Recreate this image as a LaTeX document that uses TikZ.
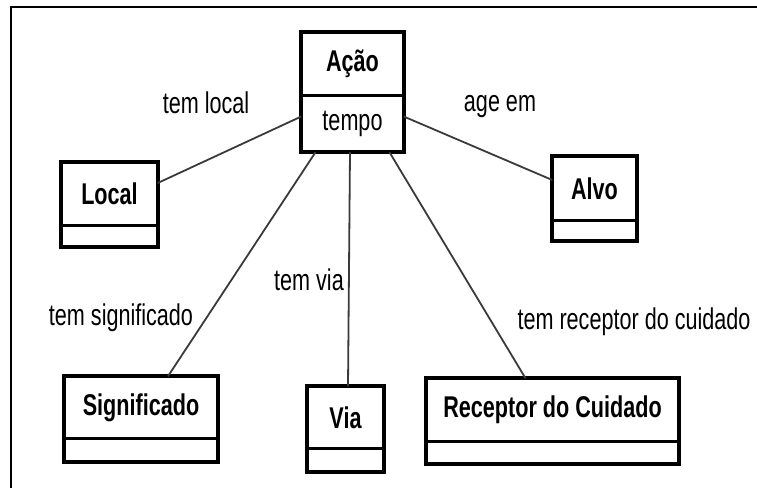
\documentclass[tikz,border=0pt]{standalone}
\usepackage{fontspec}
\setmainfont[FakeStretch=0.72]{Liberation Sans}
\usepackage{tikz}
\usepackage{xcolor}
\definecolor{linkgray}{HTML}{3A3A3A}

\tikzset{
 classname/.style={draw=black, line width=1.5pt, inner sep=0pt, font=\bfseries\fontsize{30}{32}\selectfont},
 classpart/.style={draw=black, line width=1.5pt, inner sep=0pt, font=\fontsize{30}{32}\selectfont},
 classborder/.style={draw=black, line width=4pt},
 assoc/.style={draw=linkgray, line width=1.8pt},
 assoclabel/.style={inner sep=0pt, font=\fontsize{30}{32}\selectfont},
 pageframe/.style={draw=black, line width=2.5pt}
}

\begin{document}
\begin{tikzpicture}[x=1pt,y=-1pt]
 \useasboundingbox (0,0) rectangle (757,488);
 \draw[pageframe] (757,7) -- (11,7) -- (11,488);

 \node[classname, minimum width=101pt, minimum height=62pt] (acao) at (352.5,64) {Ação};
 \node[classpart, minimum width=101pt, minimum height=55pt, anchor=north] (acaotempo) at (acao.south) {tempo};
 \draw[classborder] (acao.north west) rectangle (acaotempo.south east);

 \node[classname, minimum width=95pt, minimum height=62pt] (local) at (109.5,194) {Local};
 \node[classpart, minimum width=95pt, minimum height=20pt, anchor=north] (localpart) at (local.south) {};
 \draw[classborder] (local.north west) rectangle (localpart.south east);

 \node[classname, minimum width=83pt, minimum height=63pt] (alvo) at (594.5,188.5) {Alvo};
 \node[classpart, minimum width=83pt, minimum height=19pt, anchor=north] (alvopart) at (alvo.south) {};
 \draw[classborder] (alvo.north west) rectangle (alvopart.south east);

 \node[classname, minimum width=152pt, minimum height=61pt] (signif) at (141,407.5) {Significado};
 \node[classpart, minimum width=152pt, minimum height=22pt, anchor=north] (signifpart) at (signif.south) {};
 \draw[classborder] (signif.north west) rectangle (signifpart.south east);

 \node[classname, minimum width=75pt, minimum height=61pt] (via) at (345.5,417.5) {Via};
 \node[classpart, minimum width=75pt, minimum height=22pt, anchor=north] (viapart) at (via.south) {};
 \draw[classborder] (via.north west) rectangle (viapart.south east);

 \node[classname, minimum width=251pt, minimum height=62pt] (receptor) at (552.5,410) {Receptor do Cuidado};
 \node[classpart, minimum width=251pt, minimum height=21pt, anchor=north] (receptorpart) at (receptor.south) {};
 \draw[classborder] (receptor.north west) rectangle (receptorpart.south east);

 \draw[assoc] ([yshift=7.5pt]acaotempo.west) -- ([yshift=11pt]local.east);
 \draw[assoc] ([yshift=7.5pt]acaotempo.east) -- ([yshift=8.5pt]alvo.west);
 \draw[assoc] ([xshift=-37pt]acaotempo.south) -- ([xshift=27pt]signif.north);
 \draw[assoc] ([xshift=-2.5pt]acaotempo.south) -- ([xshift=2.5pt]via.north);
 \draw[assoc] ([xshift=37pt]acaotempo.south) -- ([xshift=-27pt]receptor.north);

 \node[assoclabel] (ltemlocal) at (206,103) {tem local};
 \node[assoclabel] (lageem) at (500,107) {age em};
 \node[assoclabel] (ltemsignif) at (121,318) {tem significado};
 \node[assoclabel] (ltemvia) at (309,280) {tem via};
 \node[assoclabel] (ltemreceptor) at (634,322) {tem receptor do cuidado};
\end{tikzpicture}
\end{document}
